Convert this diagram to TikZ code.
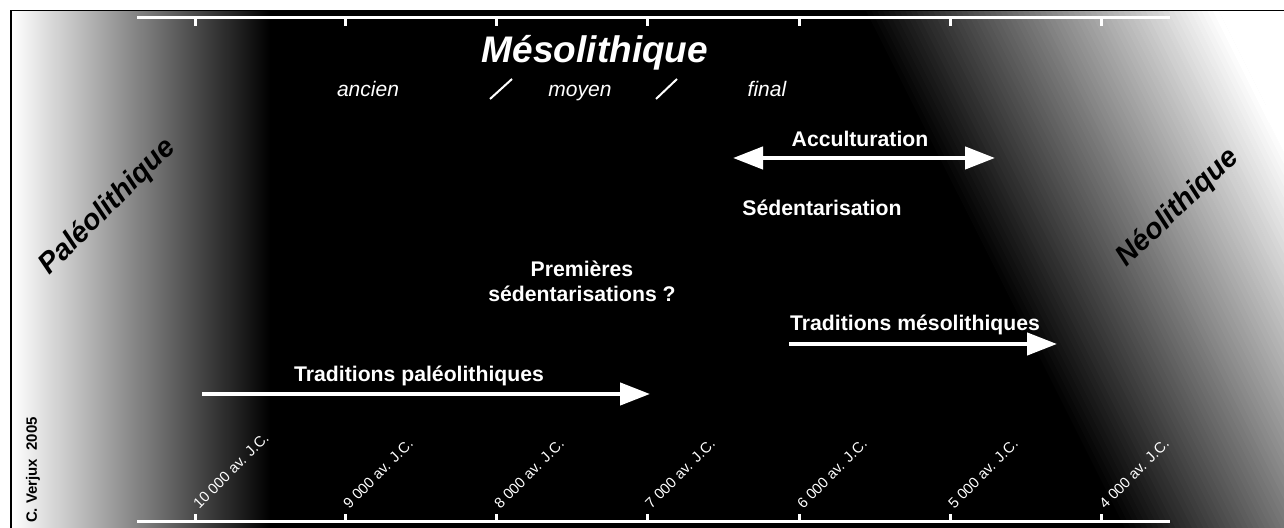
\documentclass[tikz,border=0pt]{standalone}
\usepackage{fontspec}
\setmainfont{Liberation Sans}
\usetikzlibrary{arrows.meta}

\begin{document}
\begin{tikzpicture}[
    x=0.5pt, y=0.5pt,
    period/.style={font=\fontsize{18.5}{22}\selectfont\bfseries\itshape,
                   text=white, inner sep=0pt},
    phase/.style={font=\fontsize{10.5}{12}\selectfont\itshape,
                  text=white, inner sep=0pt},
    event/.style={font=\fontsize{10.6}{12.5}\selectfont\bfseries,
                  text=white, inner sep=0pt, align=center},
    era/.style={font=\fontsize{14.4}{17}\selectfont\bfseries\itshape,
                text=black, inner sep=0pt},
    datelabel/.style={font=\fontsize{7.4}{9}\selectfont, text=white,
                      inner sep=0pt, rotate=45, anchor=base west},
    scaleline/.style={draw=white, line width=1.5pt},
    bigarrow/.style={draw=white, line width=2.2pt,
                     -{Triangle[length=15pt, width=11pt]}},
    dblarrow/.style={draw=white, line width=2.2pt,
                     {Triangle[length=15pt, width=11pt]}-{Triangle[length=15pt, width=11pt]}}
]
    \useasboundingbox (0,0) rectangle (1284,528);

    % background and frame
    \fill[white] (0,0) rectangle (1284,528);
    \fill[black] (10,0) rectangle (1284,518);
    \shade[left color=white, right color=black] (12,0) rectangle (270,516);
    \begin{scope}
        \clip (12,0) rectangle (1284,516);
        \begin{scope}[shift={(860,518)}, rotate=26.6]
            \foreach \i [evaluate=\i as \p using \i*100/63] in {0,...,63}
                \fill[white!\p!black] (\i*5,-700) rectangle (\i*5+5.6,700);
            \fill[white] (320,-700) rectangle (1100,700);
        \end{scope}
    \end{scope}

    % time scales
    \draw[scaleline] (137,510) -- (1170,510);
    \draw[scaleline] (137,6) -- (1170,6);
    \foreach \x in {195,345,496,647,799,950,1101} {
        \draw[scaleline] (\x,510) -- (\x,502);
        \draw[scaleline] (\x,6) -- (\x,14);
    }
    \foreach \x/\d [count=\k] in {195/10 000, 345/9 000, 496/8 000,
            647/7 000, 799/6 000, 950/5 000, 1101/4 000}
        \node[datelabel] (date\k) at (\x+4,18) {\d\ av. J.C.};

    % periods
    \node[period, anchor=base] (meso) at (595,465) {Mésolithique};
    \node[phase, anchor=base] (ancien) at (368,431) {ancien};
    \node[phase, anchor=base] (moyen) at (580,431) {moyen};
    \node[phase, anchor=base] (final) at (767,431) {final};
    \draw[white, line width=1pt] (490,429) -- (512,449);
    \draw[white, line width=1pt] (656,429) -- (677,449);

    \node[era, rotate=45] (paleo) at (108,321) {Paléolithique};
    \node[era, rotate=44] (neo) at (1178,320) {Néolithique};

    % events
    \node[event, anchor=base] (accult) at (860,381) {Acculturation};
    \coordinate (acc-w) at (733,370);
    \coordinate (acc-e) at (995,370);
    \draw[dblarrow] (acc-w) -- (acc-e);

    \node[event, anchor=base] (sedent) at (822,312) {Sédentarisation};
    \node[event] (premieres) at (582,247) {Premières\\sédentarisations ?};

    \node[event, anchor=base] (tradmeso) at (915,197) {Traditions mésolithiques};
    \coordinate (meso-w) at (789,184);
    \coordinate (meso-e) at (1057,184);
    \draw[bigarrow] (meso-w) -- (meso-e);

    \node[event, anchor=base] (tradpaleo) at (419,146) {Traditions paléolithiques};
    \coordinate (paleo-w) at (202,134);
    \coordinate (paleo-e) at (650,134);
    \draw[bigarrow] (paleo-w) -- (paleo-e);

    \node[font=\fontsize{7.5}{9}\selectfont\bfseries, rotate=90, inner sep=0pt]
        (credit) at (33,58) {C. Verjux\ \ 2005};
\end{tikzpicture}
\end{document}
